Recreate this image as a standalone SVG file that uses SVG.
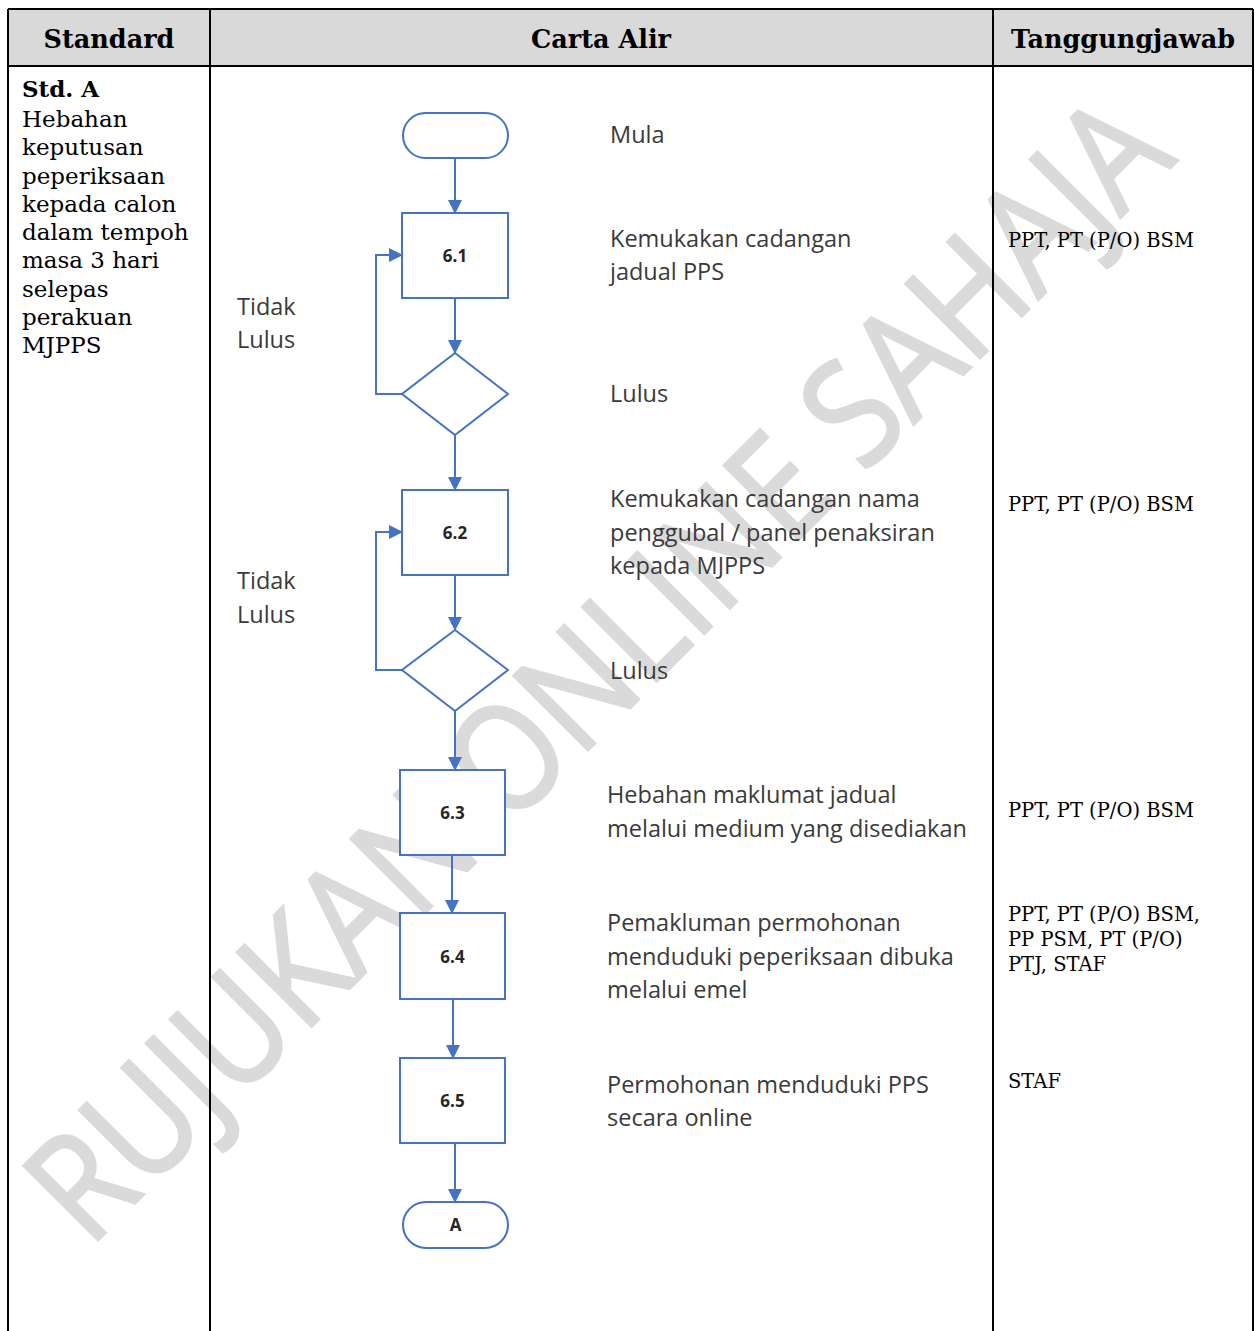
<svg xmlns="http://www.w3.org/2000/svg" width="1255" height="1331" viewBox="0 0 1255 1331">
<defs>
<marker id="ah" markerUnits="userSpaceOnUse" markerWidth="14" markerHeight="14" viewBox="0 0 14 14" refX="13" refY="7" orient="auto">
<path d="M0,0 L14,7 L0,14 Z" fill="#4472C4"/>
</marker>
<style>
.hdr{font-family:"DejaVu Serif","Liberation Serif",serif;font-weight:bold;font-size:25.5px;fill:#000;text-anchor:middle}
.std{font-family:"DejaVu Serif","Liberation Serif",serif;font-size:23px;fill:#000}
.resp{font-family:"DejaVu Serif","Liberation Serif",serif;font-size:19.5px;fill:#000}
.lbl{font-family:"Open Sans","Liberation Sans",sans-serif;font-size:23.5px;fill:#3a3a3a}
.num{font-family:"Open Sans","Liberation Sans",sans-serif;font-size:17px;font-weight:bold;fill:#262626;text-anchor:middle}
.shape{fill:#fff;stroke:#4472C4;stroke-width:2}
.conn{fill:none;stroke:#4472C4;stroke-width:2;marker-end:url(#ah)}
.grid{stroke:#000;stroke-width:2;fill:none}
</style>
</defs>
<rect x="0" y="0" width="1255" height="1331" fill="#fff"/>
<g id="watermark">
<text transform="translate(89,1249) rotate(-45)" font-family="'Open Sans','Liberation Sans',sans-serif" font-size="147" fill="#dadada" stroke="#dadada" stroke-width="3" textLength="1540" lengthAdjust="spacingAndGlyphs">RUJUKAN ONLINE SAHAJA</text>
</g>
<g id="table">
<rect x="8" y="9" width="1245" height="57" fill="#d9d9d9"/>
<line class="grid" x1="8" y1="9" x2="1253" y2="9"/>
<line class="grid" x1="8" y1="66" x2="1253" y2="66"/>
<line class="grid" x1="8" y1="9" x2="8" y2="1331"/>
<line class="grid" x1="210" y1="9" x2="210" y2="1331"/>
<line class="grid" x1="993" y1="9" x2="993" y2="1331"/>
<line class="grid" x1="1253" y1="9" x2="1253" y2="1331"/>
<text class="hdr" x="109" y="48">Standard</text>
<text class="hdr" x="601" y="48">Carta Alir</text>
<text class="hdr" x="1123" y="48">Tanggungjawab</text>
</g>
<g id="standard">
<text class="std" x="22" y="97" font-weight="bold">Std. A</text>
<text class="std" x="22" y="127">Hebahan</text>
<text class="std" x="22" y="155">keputusan</text>
<text class="std" x="22" y="184">peperiksaan</text>
<text class="std" x="22" y="212">kepada calon</text>
<text class="std" x="22" y="240">dalam tempoh</text>
<text class="std" x="22" y="268">masa 3 hari</text>
<text class="std" x="22" y="297">selepas</text>
<text class="std" x="22" y="325">perakuan</text>
<text class="std" x="22" y="353">MJPPS</text>
</g>
<g id="responsibility">
<text class="resp" x="1008" y="247">PPT, PT (P/O) BSM</text>
<text class="resp" x="1008" y="511">PPT, PT (P/O) BSM</text>
<text class="resp" x="1008" y="817">PPT, PT (P/O) BSM</text>
<text class="resp" x="1008" y="921">PPT, PT (P/O) BSM,</text>
<text class="resp" x="1008" y="946">PP PSM, PT (P/O)</text>
<text class="resp" x="1008" y="971">PTJ, STAF</text>
<text class="resp" x="1008" y="1088">STAF</text>
</g>
<g id="connectors">
<line class="conn" x1="455" y1="158" x2="455" y2="213"/>
<line class="conn" x1="455" y1="298" x2="455" y2="353"/>
<polyline class="conn" points="402,394 376,394 376,255 402,255"/>
<line class="conn" x1="455" y1="435" x2="455" y2="490"/>
<line class="conn" x1="455" y1="575" x2="455" y2="630"/>
<polyline class="conn" points="402,670 376,670 376,532 402,532"/>
<line class="conn" x1="455" y1="711" x2="455" y2="770"/>
<line class="conn" x1="452" y1="855" x2="452" y2="913"/>
<line class="conn" x1="453" y1="999" x2="453" y2="1058"/>
<line class="conn" x1="455" y1="1143" x2="455" y2="1202"/>
</g>
<g id="start">
<rect class="shape" x="403" y="113" width="105" height="45" rx="22.5"/>
</g>
<g id="n61">
<rect class="shape" x="402" y="213" width="106" height="85"/>
<text class="num" x="455" y="262">6.1</text>
</g>
<g id="d1">
<polygon class="shape" points="455,353 508,394 455,435 402,394"/>
</g>
<g id="n62">
<rect class="shape" x="402" y="490" width="106" height="85"/>
<text class="num" x="455" y="539">6.2</text>
</g>
<g id="d2">
<polygon class="shape" points="455,630 508,670 455,711 402,670"/>
</g>
<g id="n63">
<rect class="shape" x="400" y="770" width="105" height="85"/>
<text class="num" x="452.5" y="819">6.3</text>
</g>
<g id="n64">
<rect class="shape" x="400" y="913" width="105" height="86"/>
<text class="num" x="452.5" y="963">6.4</text>
</g>
<g id="n65">
<rect class="shape" x="400" y="1058" width="105" height="85"/>
<text class="num" x="452.5" y="1107">6.5</text>
</g>
<g id="end">
<rect class="shape" x="403" y="1202" width="105" height="46" rx="23"/>
<text class="num" x="455.5" y="1231">A</text>
</g>
<g id="labels">
<text class="lbl" x="610" y="143">Mula</text>
<text class="lbl" x="610" y="247">Kemukakan cadangan</text>
<text class="lbl" x="610" y="280">jadual PPS</text>
<text class="lbl" x="237" y="315">Tidak</text>
<text class="lbl" x="237" y="348">Lulus</text>
<text class="lbl" x="610" y="402">Lulus</text>
<text class="lbl" x="610" y="507">Kemukakan cadangan nama</text>
<text class="lbl" x="610" y="541">penggubal / panel penaksiran</text>
<text class="lbl" x="610" y="574">kepada MJPPS</text>
<text class="lbl" x="237" y="589">Tidak</text>
<text class="lbl" x="237" y="623">Lulus</text>
<text class="lbl" x="610" y="679">Lulus</text>
<text class="lbl" x="607" y="803">Hebahan maklumat jadual</text>
<text class="lbl" x="607" y="837">melalui medium yang disediakan</text>
<text class="lbl" x="607" y="931">Pemakluman permohonan</text>
<text class="lbl" x="607" y="965">menduduki peperiksaan dibuka</text>
<text class="lbl" x="607" y="998">melalui emel</text>
<text class="lbl" x="607" y="1093">Permohonan menduduki PPS</text>
<text class="lbl" x="607" y="1126">secara online</text>
</g>
</svg>
